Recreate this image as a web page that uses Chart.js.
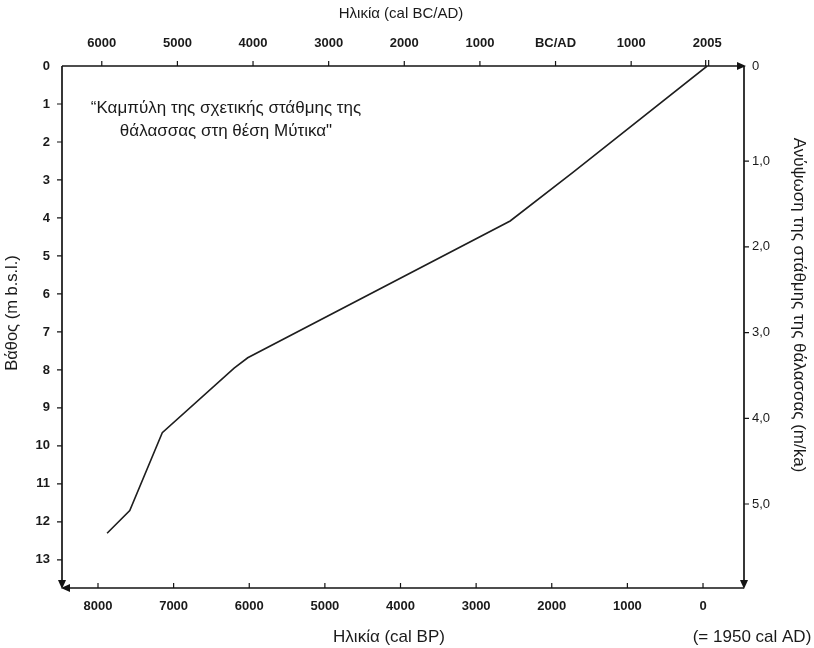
<!DOCTYPE html>
<html>
<head>
<meta charset="utf-8">
<script src="https://cdn.jsdelivr.net/npm/chart.js@4.4.0/dist/chart.umd.min.js"></script>
<style>
  html, body { margin: 0; padding: 0; background: #fff; }
</style>
</head>
<body>
<canvas id="myChart" width="814" height="648"></canvas>
<script>
  // sea level curve, Mytikas: age (cal BP) and depth (m b.s.l.)
  const ageBP = [7880, 7580, 7150, 6200, 6020, 2550, 1720, -55];
  const depth = [12.3, 11.7, 9.65, 7.95, 7.68, 4.08, 2.8, 0];

  // tick values / labels
  const bpTicks = [8000, 7000, 6000, 5000, 4000, 3000, 2000, 1000, 0];
  const depthTicks = [0, 1, 2, 3, 4, 5, 6, 7, 8, 9, 10, 11, 12, 13];
  const calYears = [-6000, -5000, -4000, -3000, -2000, -1000, 0, 1000, 2005];
  const calLabels = ["6000", "5000", "4000", "3000", "2000", "1000", "BC/AD", "1000", "2005"];
  const rateTicks = [0, 1, 2, 3, 4, 5];

  const FONT = "'Liberation Sans', Arial, sans-serif";
  const INK = "#141414";

  function arrow(ctx, x, y, dir) {
    const L = 9, W = 4;
    ctx.beginPath();
    if (dir === "right") { ctx.moveTo(x, y); ctx.lineTo(x - L, y - W); ctx.lineTo(x - L, y + W); }
    if (dir === "left") { ctx.moveTo(x, y); ctx.lineTo(x + L, y - W); ctx.lineTo(x + L, y + W); }
    if (dir === "down") { ctx.moveTo(x, y); ctx.lineTo(x - W, y - L); ctx.lineTo(x + W, y - L); }
    ctx.closePath();
    ctx.fill();
  }

  // axes frame, arrows, tick marks and titles
  const frame = {
    id: "frame",
    afterDraw(chart) {
      const { ctx, chartArea: a, scales } = chart;
      ctx.save();
      ctx.strokeStyle = INK;
      ctx.fillStyle = INK;
      ctx.lineWidth = 1.7;

      ctx.beginPath();
      ctx.moveTo(a.left, a.top); ctx.lineTo(a.right - 4, a.top);
      ctx.moveTo(a.right, a.top); ctx.lineTo(a.right, a.bottom - 4);
      ctx.moveTo(a.left + 4, a.bottom); ctx.lineTo(a.right, a.bottom);
      ctx.moveTo(a.left, a.top); ctx.lineTo(a.left, a.bottom - 4);
      ctx.stroke();
      arrow(ctx, a.right + 2, a.top, "right");
      arrow(ctx, a.right, a.bottom + 1, "down");
      arrow(ctx, a.left - 1, a.bottom, "left");
      arrow(ctx, a.left, a.bottom + 1, "down");

      ctx.lineWidth = 1.2;
      ctx.beginPath();
      scales.y.ticks.forEach(t => {
        if (t.value <= 0) return;
        const py = scales.y.getPixelForValue(t.value);
        ctx.moveTo(a.left, py); ctx.lineTo(a.left - 5, py);
      });
      scales.x.ticks.forEach(t => {
        const px = scales.x.getPixelForValue(t.value);
        ctx.moveTo(px, a.bottom); ctx.lineTo(px, a.bottom - 5);
      });
      scales.xTop.ticks.forEach((t, i) => {
        const px = scales.xTop.getPixelForValue(t.value);
        if (i === scales.xTop.ticks.length - 1) {
          ctx.moveTo(px - 1.5, a.top); ctx.lineTo(px - 1.5, a.top - 6);
          ctx.moveTo(px + 1.5, a.top); ctx.lineTo(px + 1.5, a.top - 6);
        } else {
          ctx.moveTo(px, a.top); ctx.lineTo(px, a.top - 5);
        }
      });
      scales.yRate.ticks.forEach(t => {
        if (t.value < 0.5) return;
        const py = scales.yRate.getPixelForValue(t.value);
        ctx.moveTo(a.right, py); ctx.lineTo(a.right + 5, py);
      });
      ctx.stroke();

      // titles
      ctx.fillStyle = "#1a1a1a";
      ctx.textAlign = "center";
      ctx.textBaseline = "middle";
      ctx.font = "15px " + FONT;
      ctx.fillText("Ηλικία (cal BC/AD)", 401, 14);
      ctx.font = "17px " + FONT;
      ctx.fillText("Ηλικία (cal BP)", 389, 637);
      ctx.fillText("(= 1950 cal AD)", 752, 637);

      ctx.save();
      ctx.translate(12, 313);
      ctx.rotate(-Math.PI / 2);
      ctx.font = "16.5px " + FONT;
      ctx.fillText("Βάθος (m b.s.l.)", 0, 0);
      ctx.restore();

      ctx.save();
      ctx.translate(799, 305);
      ctx.rotate(Math.PI / 2);
      ctx.font = "17px " + FONT;
      ctx.fillText("Ανύψωση της στάθμης της θάλασσας (m/ka)", 0, 0);
      ctx.restore();

      ctx.font = "17px " + FONT;
      ctx.fillText("“Καμπύλη της σχετικής στάθμης της", 226, 108);
      ctx.fillText("θάλασσας στη θέση Μύτικα\"", 226, 131);
      ctx.restore();
    }
  };

  const tickFont = { family: FONT, size: 13, weight: "bold" };
  const fixed = (v) => ({ value: v });

  const canvas = document.getElementById("myChart");
  const ctx = canvas.getContext("2d");

  new Chart(ctx, {
    type: "line",
    data: {
      datasets: [
        {
          label: "Σχετική στάθμη θάλασσας",
          data: ageBP.map((a, i) => ({ x: a, y: depth[i] })),
          borderColor: "#1e1e1e",
          borderWidth: 1.6,
          pointRadius: 0,
          tension: 0,
          fill: false,
          xAxisID: "x",
          yAxisID: "y",
        },
      ],
    },
    options: {
      responsive: false,
      devicePixelRatio: 1,
      animation: false,
      layout: { padding: 0 },
      plugins: {
        legend: { display: false },
        tooltip: { enabled: false },
      },
      scales: {
        x: {
          type: "linear",
          position: "bottom",
          reverse: true,
          min: -542,
          max: 8476,
          grid: { display: false, drawTicks: false },
          border: { display: false },
          afterBuildTicks: (s) => { s.ticks = bpTicks.map(fixed); },
          afterFit: (s) => { s.height = 60; },
          ticks: {
            color: "#1a1a1a",
            font: tickFont,
            padding: 11,
            maxRotation: 0,
            callback: (v) => String(v),
          },
        },
        xTop: {
          type: "linear",
          position: "top",
          reverse: true,
          min: -542,
          max: 8476,
          grid: { display: false, drawTicks: false },
          border: { display: false },
          afterBuildTicks: (s) => { s.ticks = calYears.map((yr) => fixed(1950 - yr)); },
          afterFit: (s) => { s.height = 66; },
          ticks: {
            color: "#1a1a1a",
            font: tickFont,
            padding: 15,
            maxRotation: 0,
            callback: (v, i) => calLabels[i],
          },
        },
        y: {
          type: "linear",
          position: "left",
          reverse: true,
          min: 0,
          max: 13.74,
          grid: { display: false, drawTicks: false },
          border: { display: false },
          afterBuildTicks: (s) => { s.ticks = depthTicks.map(fixed); },
          afterFit: (s) => { s.width = 62; },
          ticks: { color: "#1a1a1a", font: tickFont, padding: 12 },
        },
        yRate: {
          type: "linear",
          position: "right",
          reverse: true,
          min: -0.11,
          max: 5.98,
          grid: { display: false, drawTicks: false },
          border: { display: false },
          // top label "0" sits on the upper axis line
          afterBuildTicks: (s) => { s.ticks = rateTicks.map((r) => fixed(r === 0 ? s.min : r)); },
          afterFit: (s) => { s.width = 70; },
          ticks: {
            color: "#1a1a1a",
            font: { family: FONT, size: 13 },
            padding: 8,
            callback: (v) => (v < 0.5 ? "0" : v.toFixed(1).replace(".", ",")),
          },
        },
      },
    },
    plugins: [frame],
  });
</script>
</body>
</html>
